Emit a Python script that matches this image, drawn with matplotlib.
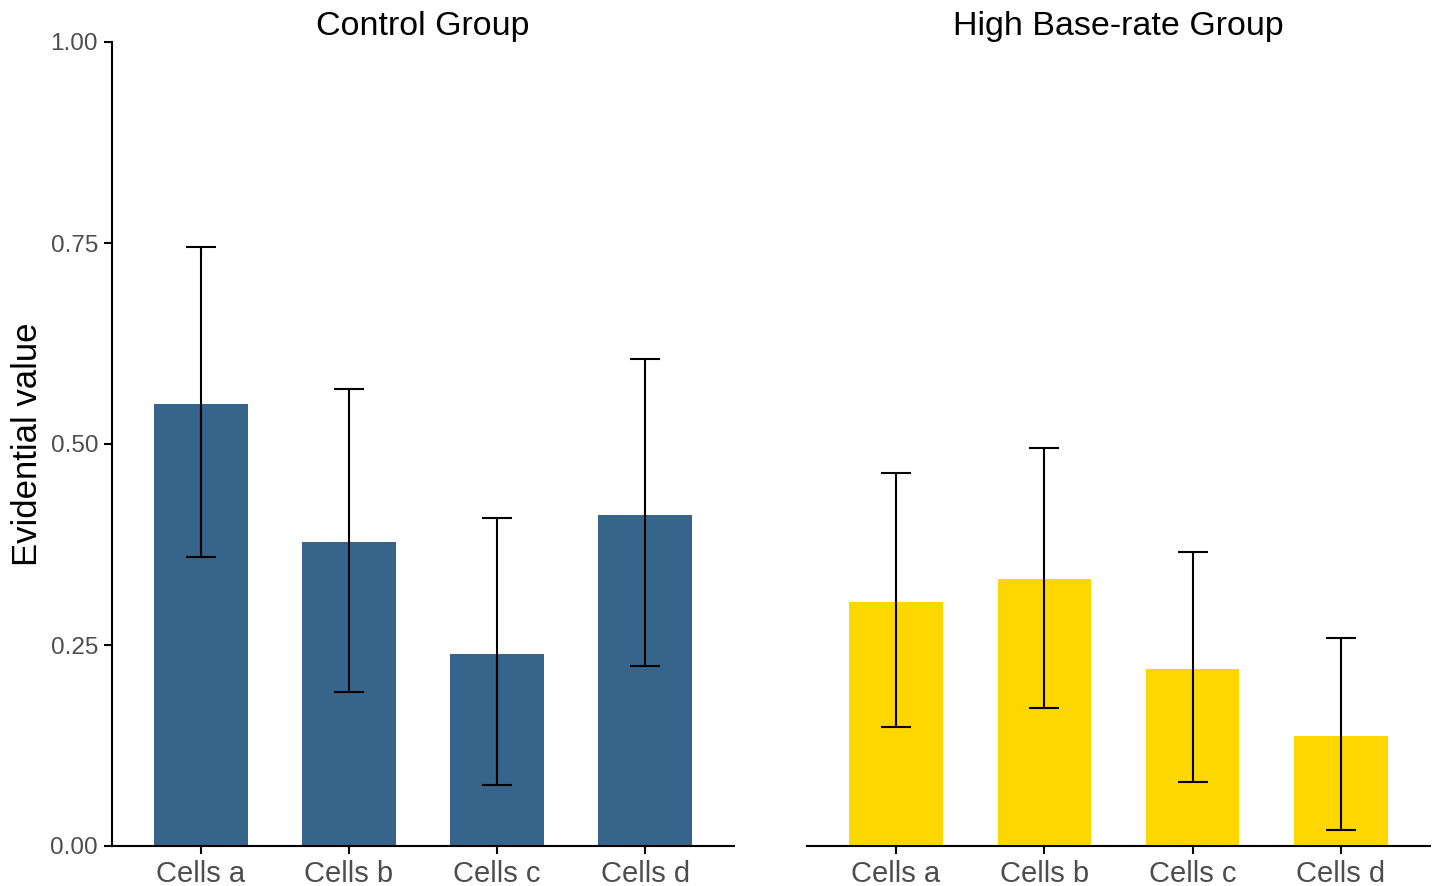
import matplotlib.pyplot as plt
import numpy as np

# values
cells = ["Cells a", "Cells b", "Cells c", "Cells d"]
panels = ["Control Group", "High Base-rate Group"]
colors = ["#36648B", "#FFD700"]

control_mean = [0.550, 0.378, 0.239, 0.412]
control_low = [0.360, 0.192, 0.076, 0.224]
control_high = [0.745, 0.568, 0.408, 0.606]

high_mean = [0.304, 0.332, 0.220, 0.137]
high_low = [0.148, 0.172, 0.080, 0.020]
high_high = [0.464, 0.495, 0.366, 0.259]

yticks = [0.0, 0.25, 0.5, 0.75, 1.0]

plt.rcParams['font.family'] = ['Liberation Sans', 'DejaVu Sans']

fig = plt.figure(figsize=(14.34, 8.86), dpi=100)
ax1 = fig.add_axes([112 / 1434, 1 - 846 / 886, 622 / 1434, 804 / 886])
ax2 = fig.add_axes([807 / 1434, 1 - 846 / 886, 623 / 1434, 804 / 886])

data = [(control_mean, control_low, control_high), (high_mean, high_low, high_high)]
x = np.arange(1, len(cells) + 1)

for ax, title, col, (m, lo, hi) in zip([ax1, ax2], panels, colors, data):
    m = np.array(m)
    err = [m - np.array(lo), np.array(hi) - m]
    ax.bar(x, m, width=0.63, color=col, zorder=1)
    ax.errorbar(x, m, yerr=err, fmt="none", ecolor="black", elinewidth=1.5,
                capsize=10.5, capthick=1.5, zorder=2)
    ax.set_xlim(0.4, 4.6)
    ax.set_ylim(0, 1)
    ax.set_xticks(x)
    ax.set_xticklabels(cells, fontsize=21, color="#4D4D4D")
    ax.set_title(title, fontsize=24.5, color="black", pad=4)
    for s in ["top", "right"]:
        ax.spines[s].set_visible(False)
    ax.spines["bottom"].set_linewidth(1.5)
    ax.spines["left"].set_linewidth(1.5)
    ax.tick_params(axis="x", length=6, width=1.5, pad=4)
    ax.tick_params(axis="y", length=6, width=1.5, labelsize=17.5, labelcolor="#4D4D4D", pad=4)

ax1.set_yticks(yticks)
ax1.set_yticklabels([f"{v:.2f}" for v in yticks])
ax1.set_ylabel("Evidential value", fontsize=25, labelpad=5)

ax2.spines["left"].set_visible(False)
ax2.set_yticks([])

fig.savefig("out.png", dpi=100)
